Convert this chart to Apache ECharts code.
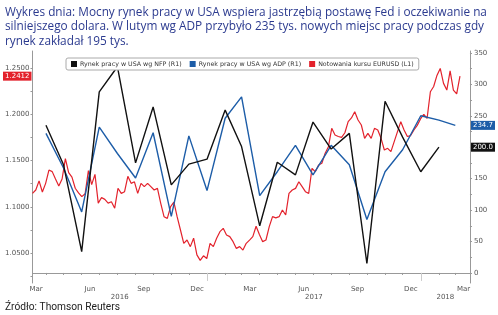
<!DOCTYPE html>
<html lang="pl" style="height: 100%">
<head>
  <meta charset="utf-8">
</head>
<body style="height: 100%; margin: 0; background: #fff">
  <div id="container" style="width: 498px; height: 315px"></div>

  <script type="text/javascript" src="https://cdn.jsdelivr.net/npm/echarts@6/dist/echarts.min.js"></script>
  <script type="text/javascript">
    // --- data ---
    // NFP (R1), monthly, first point plotted at 2016-04-01
    var nfpStart = [2016, 3];
    var nfpValues = [235, 172, 34, 288, 328, 175, 264, 140, 173, 181, 259, 201, 75, 176, 156, 240, 197, 222, 15, 273, 216, 161, 200];
    // ADP (R1), monthly, first point plotted at 2016-04-01
    var adpStart = [2016, 3];
    var adpValues = [222, 167, 97, 232, 190, 151, 223, 90, 218, 131, 246, 280, 123, 161, 203, 156, 203, 172, 85, 161, 196, 250, 243, 234.7];
    // EURUSD (L1), sampled every ~5.6 days from 2016-03-09
    var eurStart = [2016, 2, 9];
    var eurStepDays = 5.615;
    var eurValues = [
      1.1145, 1.1181, 1.1280, 1.1160, 1.1253, 1.1397, 1.1380, 1.1300, 1.1225, 1.1300,
      1.1520, 1.1370, 1.1320, 1.1200, 1.1150, 1.1110, 1.1140, 1.1390, 1.1240, 1.1350,
      1.1040, 1.1100, 1.1080, 1.1040, 1.1055, 1.0985, 1.1200, 1.1145, 1.1163, 1.1330,
      1.1253, 1.1270, 1.1145, 1.1253, 1.1217, 1.1253, 1.1217, 1.1181, 1.1199, 1.1037,
      1.0893, 1.0875, 1.1001, 1.1050, 1.0890, 1.0749, 1.0605, 1.0641, 1.0569, 1.0660,
      1.0480, 1.0420, 1.0470, 1.0440, 1.0605, 1.0569, 1.0659, 1.0731, 1.0767, 1.0695,
      1.0677, 1.0623, 1.0550, 1.0569, 1.0532, 1.0605, 1.0640, 1.0677, 1.0790, 1.0700,
      1.0623, 1.0641, 1.0785, 1.0893, 1.0880, 1.0893, 1.0965, 1.0911, 1.1145, 1.1181,
      1.1199, 1.1271, 1.1217, 1.1163, 1.1145, 1.1416, 1.1379, 1.1452, 1.1470, 1.1578,
      1.1650, 1.1848, 1.1776, 1.1760, 1.1750, 1.1800, 1.1920, 1.1960, 1.2028, 1.1938,
      1.1884, 1.1740, 1.1794, 1.1740, 1.1848, 1.1830, 1.1740, 1.1614, 1.1632, 1.1596,
      1.1704, 1.1812, 1.1920, 1.1830, 1.1760, 1.1770, 1.1830, 1.1880, 1.1950, 1.2000,
      1.1956, 1.2244, 1.2300, 1.2420, 1.2496, 1.2334, 1.2262, 1.2470, 1.2262, 1.2220,
      1.2412
    ];
    // axis ticks / labels
    var leftLabels = [1.05, 1.10, 1.15, 1.20, 1.25];
    var leftTicks = [1.025, 1.05, 1.075, 1.10, 1.125, 1.15, 1.175, 1.20, 1.225, 1.25];
    var rightLabels = [0, 50, 100, 150, 200, 250, 300, 350];
    var rightTicks = [0, 25, 50, 75, 100, 125, 150, 175, 200, 225, 250, 275, 300, 325, 350];
    var monthLabels = [[2016, 2, 'Mar'], [2016, 5, 'Jun'], [2016, 8, 'Sep'], [2016, 11, 'Dec'],
                       [2017, 2, 'Mar'], [2017, 5, 'Jun'], [2017, 8, 'Sep'], [2017, 11, 'Dec'], [2018, 2, 'Mar']];
    var yearLabels = ['2016', '2017', '2018'];

    var xMin = Date.UTC(2016, 2, 9);
    var xMax = Date.UTC(2018, 2, 26);
    var DAY = 86400000;

    function monthly(start, vals) {
      return vals.map(function (v, i) {
        return [Date.UTC(start[0], start[1] + i, 1), v];
      });
    }
    var nfpData = monthly(nfpStart, nfpValues);
    var adpData = monthly(adpStart, adpValues);
    var eurData = eurValues.map(function (v, i) {
      return [Date.UTC(eurStart[0], eurStart[1], eurStart[2]) + i * eurStepDays * DAY, v];
    });

    var monthTicks = [];
    for (var m = 3; m <= 26; m++) monthTicks.push(Date.UTC(2016, m, 1));
    var monthLabelVals = monthLabels.map(function (d) { return Date.UTC(d[0], d[1], 15); });
    var monthNames = {};
    monthLabels.forEach(function (d, i) { monthNames[monthLabelVals[i]] = d[2]; });

    var y2017 = Date.UTC(2017, 0, 1), y2018 = Date.UTC(2018, 0, 1);
    var yearPos = [(xMin + y2017) / 2, (y2017 + y2018) / 2, (y2018 + xMax) / 2];
    var yearNames = {};
    yearPos.forEach(function (p, i) { yearNames[p] = yearLabels[i]; });

    var lastEur = eurValues[eurValues.length - 1];
    var lastAdp = adpValues[adpValues.length - 1];
    var lastNfp = nfpValues[nfpValues.length - 1];

    var axisFont = { fontFamily: 'DejaVu Sans', fontSize: 7, color: '#555' };

    function badgeAxis(position, min, max, value, bg, fmt) {
      return {
        type: 'value', position: position, min: min, max: max, offset: 0,
        axisLine: { show: false }, axisTick: { show: false }, splitLine: { show: false },
        axisLabel: {
          customValues: [value], margin: 1, color: '#fff', backgroundColor: bg,
          fontFamily: 'DejaVu Sans', fontSize: 7, padding: [1, 2, 1, 2],
          formatter: function (v) { return v.toFixed(fmt); }
        }
      };
    }

    var dom = document.getElementById('container');
    var myChart = echarts.init(dom, null, { renderer: 'canvas' });

    var option = {
      animation: false,
      title: [
        {
          text: 'Wykres dnia: Mocny rynek pracy w USA wspiera jastrzębią postawę Fed i oczekiwanie na\nsilniejszego dolara. W lutym wg ADP przybyło 235 tys. nowych miejsc pracy podczas gdy\nrynek zakładał 195 tys.',
          left: 0, top: 0,
          textStyle: { fontFamily: 'Open Sans', fontSize: 11.8, fontWeight: 'normal', color: '#2b3a8f', lineHeight: 14.5 }
        },
        {
          text: 'Źródło: Thomson Reuters',
          left: 0, top: 297,
          textStyle: { fontFamily: 'Roboto', fontSize: 10.2, fontWeight: 'normal', color: '#222' }
        }
      ],
      legend: {
        left: 66, top: 58,
        data: ['Rynek pracy w USA wg NFP (R1)', 'Rynek pracy w USA wg ADP (R1)', 'Notowania kursu EURUSD (L1)'],
        icon: 'rect', itemWidth: 6, itemHeight: 6, itemGap: 8,
        padding: [3, 5, 3, 5],
        borderColor: '#aaa', borderWidth: 1, borderRadius: 2, backgroundColor: '#fff',
        textStyle: { fontFamily: 'DejaVu Sans', fontSize: 6.3, color: '#333', padding: [1, 0, 0, -2] }
      },
      grid: { left: 28, right: 26, top: 51, bottom: 32 },
      xAxis: [
        {
          type: 'value', min: xMin, max: xMax,
          axisLine: { lineStyle: { color: '#999' } },
          axisTick: { customValues: monthTicks, length: 2, lineStyle: { color: '#999' } },
          axisLabel: Object.assign({
            customValues: monthLabelVals, margin: 3,
            formatter: function (v) { return monthNames[v] || ''; }
          }, axisFont),
          splitLine: { show: false }
        },
        {
          type: 'value', min: xMin, max: xMax, position: 'bottom', offset: 10,
          axisLine: { show: false },
          axisTick: { customValues: [y2017, y2018], length: 8, lineStyle: { color: '#ccc' } },
          axisLabel: Object.assign({
            customValues: yearPos, margin: 1,
            formatter: function (v) { return yearNames[v] || ''; }
          }, axisFont),
          splitLine: { show: false }
        }
      ],
      yAxis: [
        {
          type: 'value', position: 'left', min: 1.0176, max: 1.2684,
          axisLine: { show: true, lineStyle: { color: '#999' } },
          axisTick: { show: true, customValues: leftTicks, length: 2, lineStyle: { color: '#999' } },
          axisLabel: Object.assign({
            customValues: leftLabels, margin: 3,
            formatter: function (v) { return v.toFixed(4); }
          }, axisFont),
          splitLine: { show: false }
        },
        {
          type: 'value', position: 'right', min: -16, max: 353,
          axisLine: { show: true, lineStyle: { color: '#999' } },
          axisTick: { show: true, customValues: rightTicks, length: 2, lineStyle: { color: '#999' } },
          axisLabel: Object.assign({ customValues: rightLabels, margin: 4 }, axisFont),
          splitLine: { show: false }
        },
        badgeAxis('left', 1.0176, 1.2684, lastEur, '#e3222c', 4),
        badgeAxis('right', -16, 353, lastAdp, '#1d5da8', 1),
        badgeAxis('right', -16, 353, lastNfp, '#111', 1)
      ],
      series: [
        {
          name: 'Notowania kursu EURUSD (L1)', type: 'line', yAxisIndex: 0,
          data: eurData, showSymbol: false, z: 1,
          itemStyle: { color: '#e3222c' }, lineStyle: { color: '#e3222c', width: 1.2 }
        },
        {
          name: 'Rynek pracy w USA wg NFP (R1)', type: 'line', yAxisIndex: 1,
          data: nfpData, showSymbol: false, z: 3,
          itemStyle: { color: '#111' }, lineStyle: { color: '#111', width: 1.4 }
        },
        {
          name: 'Rynek pracy w USA wg ADP (R1)', type: 'line', yAxisIndex: 1,
          data: adpData, showSymbol: false, z: 2,
          itemStyle: { color: '#1d5da8' }, lineStyle: { color: '#1d5da8', width: 1.4 }
        }
      ]
    };

    myChart.setOption(option);
    window.addEventListener('resize', myChart.resize);
  </script>
</body>
</html>
